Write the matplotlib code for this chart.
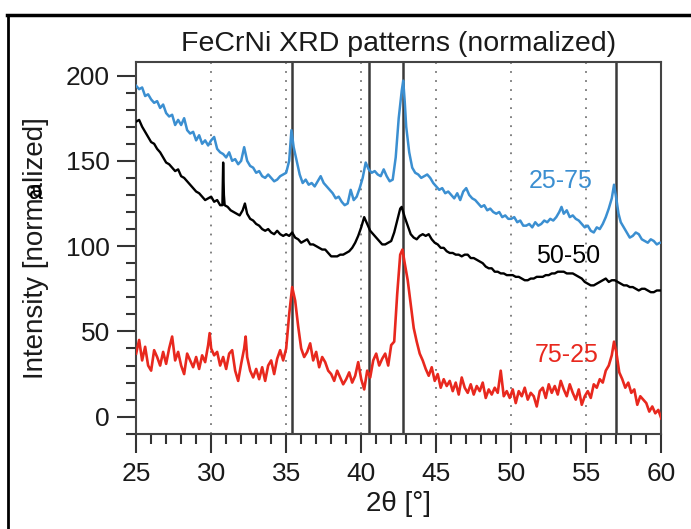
import matplotlib
matplotlib.use("Agg")
import matplotlib.pyplot as plt
from matplotlib.lines import Line2D
from matplotlib.ticker import MultipleLocator

plt.rcParams["font.family"] = ["Liberation Sans", "DejaVu Sans"]

# 25-75 sample (blue)
x_blue = [25.0, 25.2, 25.4, 25.6, 25.8, 26.0, 26.2, 26.4, 26.6, 26.8, 27.0, 27.2, 27.4, 27.6, 27.8,
          28.0, 28.2, 28.4, 28.6, 28.8, 29.0, 29.2, 29.4, 29.6, 29.8, 30.0, 30.2, 30.4, 30.6, 30.8,
          31.0, 31.2, 31.4, 31.6, 31.8, 32.0, 32.2, 32.4, 32.6, 32.8, 33.0, 33.2, 33.4, 33.6, 33.8,
          34.0, 34.2, 34.4, 34.6, 34.8, 35.0, 35.2, 35.35, 35.5, 35.7, 35.9, 36.1, 36.3, 36.5, 36.7,
          36.9, 37.1, 37.3, 37.5, 37.7, 37.9, 38.1, 38.3, 38.5, 38.7, 38.9, 39.1, 39.3, 39.5, 39.7,
          39.9, 40.1, 40.3, 40.5, 40.7, 40.9, 41.1, 41.3, 41.5, 41.7, 41.9, 42.1, 42.3, 42.5, 42.7,
          42.8, 42.9, 43.0, 43.2, 43.4, 43.6, 43.8, 44.0, 44.2, 44.4, 44.6, 44.8, 45.0, 45.2, 45.4,
          45.6, 45.8, 46.0, 46.2, 46.4, 46.6, 46.8, 47.0, 47.2, 47.4, 47.6, 47.8, 48.0, 48.2, 48.4,
          48.6, 48.8, 49.0, 49.2, 49.4, 49.6, 49.8, 50.0, 50.2, 50.4, 50.6, 50.8, 51.0, 51.2, 51.4,
          51.6, 51.8, 52.0, 52.2, 52.4, 52.6, 52.8, 53.0, 53.2, 53.35, 53.5, 53.7, 53.9, 54.1, 54.3,
          54.5, 54.7, 54.9, 55.1, 55.3, 55.5, 55.7, 55.9, 56.1, 56.3, 56.5, 56.7, 56.85, 57.0, 57.15,
          57.3, 57.5, 57.7, 57.9, 58.1, 58.3, 58.5, 58.7, 58.9, 59.1, 59.3, 59.5, 59.7, 59.9, 60.0]
y_blue = [194, 192, 193, 188, 189, 186, 184, 185, 181, 183, 178, 176, 177, 171, 174,
          171, 175, 168, 166, 167, 162, 165, 160, 162, 159, 162, 164, 157, 155, 154,
          152, 155, 150, 151, 148, 150, 158, 150, 147, 146, 143, 144, 141, 140, 142,
          140, 138, 139, 141, 142, 143, 150, 168, 158, 150, 142, 137, 139, 136, 137,
          135, 138, 141, 137, 135, 133, 131, 128, 129, 126, 124, 125, 133, 127, 129,
          134, 140, 149, 145, 143, 144, 142, 141, 145, 141, 138, 139, 152, 175, 191,
          197, 185, 170, 155, 146, 143, 142, 140, 141, 142, 140, 137, 135, 133, 134,
          131, 132, 130, 128, 131, 127, 132, 134, 130, 128, 127, 125, 123, 124, 121,
          122, 120, 119, 120, 117, 118, 116, 116, 117, 114, 115, 112, 112, 113, 111,
          114, 112, 113, 115, 114, 116, 115, 117, 120, 123, 119, 121, 117, 118, 116,
          115, 113, 111, 112, 109, 108, 111, 110, 113, 117, 122, 128, 136, 128, 119,
          114, 111, 108, 105, 106, 108, 107, 104, 103, 102, 104, 103, 101, 102, 102]

# 50-50 sample (black)
x_black = [25.0, 25.2, 25.4, 25.6, 25.8, 26.0, 26.2, 26.4, 26.6, 26.8, 27.0, 27.2, 27.4, 27.6, 27.8,
           28.0, 28.2, 28.4, 28.6, 28.8, 29.0, 29.2, 29.4, 29.6, 29.8, 30.0, 30.2, 30.4, 30.6, 30.75,
           30.8, 30.85, 30.9, 31.1, 31.3, 31.5, 31.7, 31.9, 32.1, 32.25, 32.4, 32.6, 32.8, 33.0, 33.2,
           33.4, 33.6, 33.8, 34.0, 34.2, 34.4, 34.6, 34.8, 35.0, 35.2, 35.4, 35.6, 35.8, 36.0, 36.2,
           36.4, 36.6, 36.8, 37.0, 37.2, 37.4, 37.6, 37.8, 38.0, 38.2, 38.4, 38.6, 38.8, 39.0, 39.2,
           39.4, 39.6, 39.8, 40.0, 40.2, 40.4, 40.6, 40.8, 41.0, 41.2, 41.4, 41.6, 41.8, 42.0, 42.2,
           42.4, 42.6, 42.7, 42.9, 43.1, 43.3, 43.5, 43.7, 43.9, 44.1, 44.3, 44.5, 44.7, 44.9, 45.1,
           45.3, 45.5, 45.7, 45.9, 46.1, 46.3, 46.5, 46.7, 46.9, 47.1, 47.3, 47.5, 47.7, 47.9, 48.1,
           48.3, 48.5, 48.7, 48.9, 49.1, 49.3, 49.5, 49.7, 49.9, 50.1, 50.3, 50.5, 50.7, 50.9, 51.1,
           51.3, 51.5, 51.7, 51.9, 52.1, 52.3, 52.5, 52.7, 52.9, 53.1, 53.3, 53.5, 53.7, 53.9, 54.1,
           54.3, 54.5, 54.7, 54.9, 55.1, 55.3, 55.5, 55.7, 55.9, 56.1, 56.3, 56.5, 56.7, 56.9, 57.1,
           57.3, 57.5, 57.7, 57.9, 58.1, 58.3, 58.5, 58.7, 58.9, 59.1, 59.3, 59.5, 59.7, 59.9, 60.0]
y_black = [173, 174, 170, 167, 164, 161, 160, 157, 155, 152, 149, 148, 146, 144, 145,
           141, 140, 138, 136, 134, 132, 131, 129, 127, 128, 129, 126, 127, 124, 124,
           149, 130, 124, 123, 121, 120, 119, 118, 121, 125, 119, 116, 115, 113, 112,
           110, 109, 110, 108, 107, 109, 107, 106, 107, 106, 108, 105, 104, 102, 103,
           104, 101, 101, 100, 99, 98, 98, 96, 94, 94, 94, 95, 95, 96, 97,
           99, 102, 106, 111, 117, 113, 109, 107, 105, 103, 101, 101, 102, 103, 108,
           115, 122, 123, 117, 112, 107, 105, 104, 106, 107, 106, 107, 104, 102, 101,
           99, 99, 97, 96, 96, 95, 95, 94, 95, 95, 93, 93, 92, 91, 90,
           88, 87, 87, 85, 85, 84, 84, 83, 83, 83, 82, 82, 81, 80, 80,
           81, 81, 82, 82, 82, 83, 83, 84, 84, 85, 85, 85, 84, 84, 84,
           83, 82, 81, 79, 78, 77, 77, 78, 79, 80, 81, 79, 80, 80, 79,
           78, 77, 77, 76, 76, 75, 74, 75, 75, 74, 73, 73, 74, 74, 74]

# 75-25 sample (red)
x_red = [25.0, 25.2, 25.4, 25.6, 25.8, 26.0, 26.2, 26.4, 26.6, 26.8, 27.0, 27.2, 27.4, 27.6, 27.8,
         28.0, 28.2, 28.4, 28.6, 28.8, 29.0, 29.2, 29.4, 29.6, 29.8, 29.9, 30.0, 30.2, 30.4, 30.6,
         30.8, 31.0, 31.2, 31.4, 31.6, 31.8, 32.0, 32.2, 32.3, 32.4, 32.6, 32.8, 33.0, 33.2, 33.4,
         33.6, 33.8, 34.0, 34.2, 34.4, 34.6, 34.8, 35.0, 35.2, 35.4, 35.6, 35.8, 36.0, 36.2, 36.4,
         36.6, 36.8, 37.0, 37.2, 37.4, 37.6, 37.8, 38.0, 38.2, 38.4, 38.6, 38.8, 39.0, 39.2, 39.4,
         39.6, 39.8, 40.0, 40.2, 40.4, 40.6, 40.8, 41.0, 41.2, 41.4, 41.6, 41.8, 42.0, 42.2, 42.4,
         42.6, 42.75, 42.9, 43.1, 43.3, 43.5, 43.7, 43.9, 44.1, 44.3, 44.5, 44.7, 44.9, 45.1, 45.3,
         45.5, 45.7, 45.9, 46.1, 46.3, 46.5, 46.7, 46.9, 47.1, 47.3, 47.5, 47.7, 47.9, 48.1, 48.3,
         48.5, 48.7, 48.9, 49.1, 49.3, 49.5, 49.7, 49.9, 50.1, 50.3, 50.5, 50.7, 50.9, 51.1, 51.3,
         51.5, 51.7, 51.9, 52.1, 52.3, 52.5, 52.7, 52.9, 53.1, 53.3, 53.5, 53.7, 53.9, 54.1, 54.3,
         54.5, 54.7, 54.9, 55.1, 55.3, 55.5, 55.7, 55.9, 56.1, 56.3, 56.5, 56.7, 56.85, 57.0, 57.2,
         57.4, 57.6, 57.8, 58.0, 58.2, 58.4, 58.6, 58.8, 59.0, 59.2, 59.4, 59.6, 59.8, 60.0]
y_red = [37, 45, 33, 41, 30, 27, 39, 35, 30, 38, 31, 40, 47, 33, 38,
         30, 25, 37, 33, 29, 35, 28, 36, 32, 42, 49, 40, 36, 38, 30,
         35, 28, 37, 39, 27, 21, 31, 40, 47, 35, 27, 23, 28, 22, 29,
         21, 30, 33, 25, 34, 39, 33, 40, 60, 76, 68, 53, 40, 35, 38,
         43, 33, 38, 29, 35, 32, 27, 25, 21, 27, 23, 19, 22, 26, 20,
         24, 32, 22, 16, 27, 23, 33, 37, 30, 34, 37, 30, 42, 44, 72,
         95, 98, 90, 80, 66, 52, 44, 37, 33, 28, 24, 29, 21, 25, 17,
         22, 18, 21, 15, 20, 13, 23, 17, 14, 19, 13, 18, 15, 20, 11,
         16, 13, 17, 14, 27, 12, 15, 11, 16, 8, 15, 12, 17, 10, 14,
         12, 6, 15, 17, 11, 19, 14, 18, 13, 21, 16, 12, 19, 14, 10,
         16, 7, 12, 15, 11, 19, 17, 22, 20, 27, 30, 36, 44, 38, 26,
         22, 17, 20, 14, 16, 7, 12, 10, 8, 3, 6, 2, 4, -1]

peak_positions = [35.4, 40.5, 42.8, 57.0]
sample_labels = ["25-75", "50-50", "75-25"]
label_x = [53.3, 53.8, 53.7]
label_y = [138, 94, 36]

BLUE, RED = "#3b8fd1", "#e8281e"
colors = [BLUE, "black", RED]
TXT = "#1a1a1a"

fig = plt.figure(figsize=(6.91, 5.29), dpi=100)
ax = fig.add_axes([0.197, 0.180, 0.760, 0.703])

for xv in range(30, 60, 5):
    ax.axvline(xv, color="#777777", lw=1.3, ls=(0, (1, 4)), zorder=1)
for xv in peak_positions:
    ax.axvline(xv, color="#3a3a3a", lw=1.8, zorder=1)

ax.plot(x_blue, y_blue, color=BLUE, lw=1.8, zorder=3)
ax.plot(x_black, y_black, color="black", lw=1.7, zorder=3)
ax.plot(x_red, y_red, color=RED, lw=1.9, zorder=3)

for lbl, lx, ly, c in zip(sample_labels, label_x, label_y, colors):
    ax.text(lx, ly, lbl, color=c, fontsize=18, ha="center", va="center", zorder=4)

ax.set_xlim(25, 60)
ax.set_ylim(-10, 208)
ax.xaxis.set_major_locator(MultipleLocator(5))
ax.xaxis.set_minor_locator(MultipleLocator(1))
ax.yaxis.set_major_locator(MultipleLocator(50))
ax.yaxis.set_minor_locator(MultipleLocator(10))
ax.tick_params(which="both", direction="out", colors="#333333", labelcolor=TXT,
               labelsize=19, width=1.5)
ax.tick_params(which="major", length=14)
ax.tick_params(which="minor", length=7)
ax.tick_params(axis="y", which="major", pad=5)
ax.tick_params(axis="x", which="major", pad=6)
for sp in ax.spines.values():
    sp.set_color("#444444")
    sp.set_linewidth(1.5)

ax.set_xlabel("2θ [°]", fontsize=20, color=TXT, labelpad=4)
ax.set_ylabel("Intensity [normalized]", fontsize=20, color=TXT, labelpad=12)
ax.set_title("FeCrNi XRD patterns (normalized)", fontsize=20.5, color=TXT, pad=8)
fig.text(0.052, 0.637, "a", fontsize=18, color="black", ha="center", va="center")

# outer frame of the original figure
fig.add_artist(Line2D([0.010, 1.0], [0.971, 0.971], color="black", lw=2.5))
fig.add_artist(Line2D([0.011, 0.011], [0.0, 0.971], color="black", lw=2.0))

fig.savefig("out.png", dpi=100)
